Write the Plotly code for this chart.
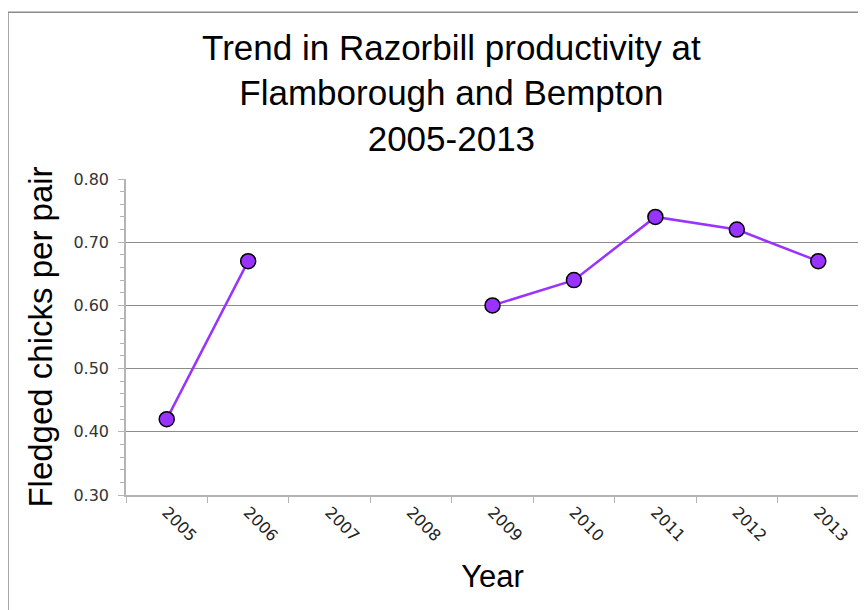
import plotly.graph_objects as go

# -----------------------------
# Data
# -----------------------------
years = ["2005", "2006", "2007", "2008", "2009", "2010", "2011", "2012", "2013"]
chicks_per_pair = [0.42, 0.67, None, None, 0.60, 0.64, 0.74, 0.72, 0.67]
y_ticks = [0.30, 0.40, 0.50, 0.60, 0.70, 0.80]

PURPLE = "#9933ff"
GRID = "#8c8c8c"
AXIS = "#b4b4b4"

# -----------------------------
# Figure
# -----------------------------
fig = go.Figure()

fig.add_trace(go.Scatter(
    x=years,
    y=chicks_per_pair,
    mode="lines+markers",
    line=dict(color=PURPLE, width=2.5),
    marker=dict(size=15, color=PURPLE, line=dict(color="black", width=1.5)),
    connectgaps=False,
    showlegend=False,
))

# outer chart frame (as in the spreadsheet export)
fig.add_shape(
    type="rect", xref="paper", yref="paper",
    x0=-0.161, x1=1.2, y0=-0.6, y1=1.528,
    line=dict(color="#8a8a8a", width=1.5), fillcolor="rgba(0,0,0,0)",
    layer="below",
)

fig.update_layout(
    width=866, height=610,
    margin=dict(l=118, r=15, t=171, b=123),
    paper_bgcolor="white",
    plot_bgcolor="white",
    title=dict(
        text="Trend in Razorbill productivity at<br>Flamborough and Bempton<br>2005-2013",
        x=0.512, xanchor="center",
        y=0.915, yanchor="top",
        font=dict(family="Liberation Sans, Arial", size=35, color="black"),
    ),
    xaxis=dict(
        type="category",
        categoryorder="array", categoryarray=years,
        range=[-0.5, 8.5],
        automargin=False,
        tickson="boundaries",
        ticks="outside", ticklen=6, tickcolor=AXIS,
        showline=True, linecolor=AXIS, linewidth=1.5,
        showgrid=False,
        tickangle=45,
        tickfont=dict(family="DejaVu Sans", size=16, color="#222"),
        title=dict(text="Year", standoff=21,
                   font=dict(family="Liberation Sans, Arial", size=31, color="black")),
    ),
    yaxis=dict(
        range=[0.30, 0.80],
        automargin=False,
        tickvals=y_ticks,
        tickformat=".2f",
        ticks="outside", ticklen=6, tickcolor=AXIS,
        ticklabelstandoff=6,
        showline=True, linecolor=AXIS, linewidth=1.5,
        showgrid=True, gridcolor=GRID, gridwidth=1,
        zeroline=False,
        minor=dict(dtick=0.02, ticks="outside", ticklen=4, tickcolor=AXIS, showgrid=False),
        tickfont=dict(family="DejaVu Sans", size=16, color="#333"),
        title=dict(text="Fledged chicks per pair", standoff=11,
                   font=dict(family="Liberation Sans, Arial", size=33, color="black")),
    ),
)

fig.write_html("out.html")
